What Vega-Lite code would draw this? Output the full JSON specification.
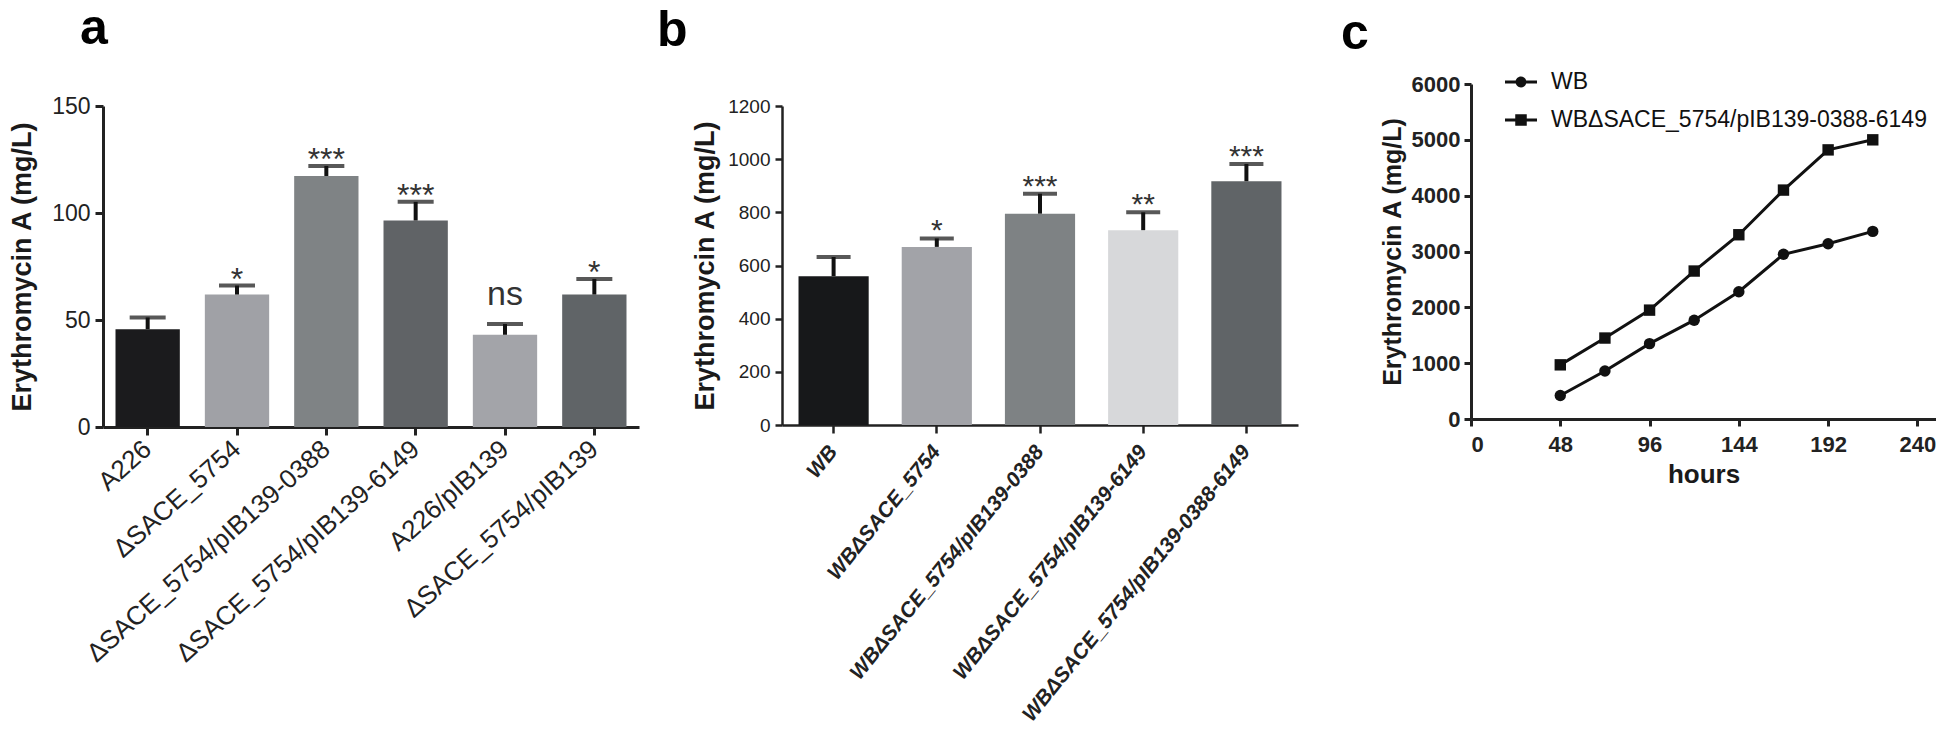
{
  "$schema": "https://vega.github.io/schema/vega-lite/v6.json",
  "padding": {"left": 8, "top": 3, "right": 0, "bottom": 0},
  "config": {
    "font": "Liberation Sans",
    "view": {"stroke": null},
    "axis": {"grid": false, "domainColor": "#222", "tickColor": "#222", "labelColor": "#222", "titleColor": "#1a1a1a"},
    "title": {"color": "#000"}
  },
  "datasets": {
    "barsA": [
      {"strain": "A226", "mean": 45.7, "upper": 51.2, "sig": ""},
      {"strain": "ΔSACE_5754", "mean": 61.9, "upper": 66.1, "sig": "*"},
      {"strain": "ΔSACE_5754/pIB139-0388", "mean": 117.3, "upper": 122.0, "sig": "***"},
      {"strain": "ΔSACE_5754/pIB139-6149", "mean": 96.5, "upper": 105.2, "sig": "***"},
      {"strain": "A226/pIB139", "mean": 43.1, "upper": 48.1, "sig": "ns"},
      {"strain": "ΔSACE_5754/pIB139", "mean": 61.9, "upper": 69.2, "sig": "*"}
    ],
    "barsB": [
      {"strain": "WB", "mean": 560, "upper": 632, "sig": ""},
      {"strain": "WBΔSACE_5754", "mean": 670, "upper": 702, "sig": "*"},
      {"strain": "WBΔSACE_5754/pIB139-0388", "mean": 795, "upper": 870, "sig": "***"},
      {"strain": "WBΔSACE_5754/pIB139-6149", "mean": 733, "upper": 800, "sig": "**"},
      {"strain": "WBΔSACE_5754/pIB139-0388-6149", "mean": 917, "upper": 982, "sig": "***"}
    ],
    "time": [
      {"series": "WB", "hours": 48, "value": 420},
      {"series": "WB", "hours": 72, "value": 860},
      {"series": "WB", "hours": 96, "value": 1350},
      {"series": "WB", "hours": 120, "value": 1770},
      {"series": "WB", "hours": 144, "value": 2280},
      {"series": "WB", "hours": 168, "value": 2950},
      {"series": "WB", "hours": 192, "value": 3140},
      {"series": "WB", "hours": 216, "value": 3360},
      {"series": "WBΔSACE_5754/pIB139-0388-6149", "hours": 48, "value": 970},
      {"series": "WBΔSACE_5754/pIB139-0388-6149", "hours": 72, "value": 1450},
      {"series": "WBΔSACE_5754/pIB139-0388-6149", "hours": 96, "value": 1950},
      {"series": "WBΔSACE_5754/pIB139-0388-6149", "hours": 120, "value": 2650},
      {"series": "WBΔSACE_5754/pIB139-0388-6149", "hours": 144, "value": 3300},
      {"series": "WBΔSACE_5754/pIB139-0388-6149", "hours": 168, "value": 4100},
      {"series": "WBΔSACE_5754/pIB139-0388-6149", "hours": 192, "value": 4820},
      {"series": "WBΔSACE_5754/pIB139-0388-6149", "hours": 216, "value": 5000}
    ]
  },
  "columns": 2,
  "align": "none",
  "spacing": 43,
  "resolve": {"scale": {"color": "independent", "shape": "independent"}, "legend": {"color": "independent", "shape": "independent"}},
  "concat": [
    {
      "spacing": 18,
      "resolve": {"scale": {"color": "independent"}, "legend": {"color": "independent"}},
      "hconcat": [
        {
          "width": 536,
          "height": 321,
          "title": {"text": "a", "anchor": "start", "frame": "group", "fontSize": 50, "fontWeight": "bold", "dx": -23, "offset": 41.5},
          "data": {"name": "barsA"},
          "encoding": {
            "x": {
              "field": "strain", "type": "nominal", "sort": null,
              "scale": {"paddingInner": 0.28, "paddingOuter": 0.14},
              "axis": {"title": null, "labelAngle": -42, "labelAlign": "right", "labelBaseline": "middle", "labelFontSize": 26, "labelPadding": 10, "tickSize": 8, "tickWidth": 3, "domainWidth": 3, "labelLimit": 0}
            }
          },
          "layer": [
            {
              "mark": {"type": "bar"},
              "encoding": {
                "y": {
                  "field": "mean", "type": "quantitative",
                  "scale": {"domain": [0, 150], "nice": false},
                  "axis": {"title": "Erythromycin A (mg/L)", "values": [0, 50, 100, 150], "format": "d", "labelFontSize": 23, "labelPadding": 5, "tickSize": 8, "tickWidth": 3, "domainWidth": 3, "titleFontSize": 27, "titleFontWeight": "bold", "titlePadding": 15}
                },
                "color": {
                  "field": "strain", "type": "nominal", "sort": null, "legend": null,
                  "scale": {"domain": ["A226", "ΔSACE_5754", "ΔSACE_5754/pIB139-0388", "ΔSACE_5754/pIB139-6149", "A226/pIB139", "ΔSACE_5754/pIB139"], "range": ["#1b1b1d", "#a0a1a6", "#7f8385", "#606366", "#a3a4a9", "#606467"]}
                }
              }
            },
            {
              "mark": {"type": "rule", "strokeWidth": 4, "color": "#111"},
              "encoding": {"y": {"field": "mean", "type": "quantitative", "title": "Erythromycin A (mg/L)"}, "y2": {"field": "upper"}}
            },
            {
              "mark": {"type": "tick", "size": 36, "thickness": 4, "color": "#111"},
              "encoding": {"y": {"field": "upper", "type": "quantitative", "title": "Erythromycin A (mg/L)"}}
            },
            {
              "transform": [{"filter": "datum.sig != 'ns' && datum.sig != ''"}],
              "mark": {"type": "text", "fontSize": 32, "dy": 4, "baseline": "alphabetic", "color": "#333"},
              "encoding": {"y": {"field": "upper", "type": "quantitative", "title": "Erythromycin A (mg/L)"}, "text": {"field": "sig"}}
            },
            {
              "transform": [{"filter": "datum.sig == 'ns'"}],
              "mark": {"type": "text", "fontSize": 34, "dy": -19, "baseline": "alphabetic", "color": "#333"},
              "encoding": {"y": {"field": "upper", "type": "quantitative", "title": "Erythromycin A (mg/L)"}, "text": {"field": "sig"}}
            }
          ]
        },
        {
          "width": 516,
          "height": 319,
          "title": {"text": "b", "anchor": "start", "frame": "group", "fontSize": 50, "fontWeight": "bold", "dx": -125, "offset": 41.5},
          "data": {"name": "barsB"},
          "encoding": {
            "x": {
              "field": "strain", "type": "nominal", "sort": null,
              "scale": {"paddingInner": 0.32, "paddingOuter": 0.16},
              "axis": {"title": null, "labelAngle": -51, "labelAlign": "right", "labelBaseline": "middle", "labelFontSize": 21, "labelFontStyle": "italic", "labelFontWeight": "bold", "labelPadding": 15, "tickSize": 8, "tickWidth": 2.5, "domainWidth": 2.5, "labelLimit": 0}
            }
          },
          "layer": [
            {
              "mark": {"type": "bar"},
              "encoding": {
                "y": {
                  "field": "mean", "type": "quantitative",
                  "scale": {"domain": [0, 1200], "nice": false},
                  "axis": {"title": "Erythromycin A (mg/L)", "values": [0, 200, 400, 600, 800, 1000, 1200], "format": "d", "labelFontSize": 19, "labelPadding": 5, "tickSize": 7, "tickWidth": 2.5, "domainWidth": 2.5, "titleFontSize": 27, "titleFontWeight": "bold", "titlePadding": 8}
                },
                "color": {
                  "field": "strain", "type": "nominal", "sort": null, "legend": null,
                  "scale": {"domain": ["WB", "WBΔSACE_5754", "WBΔSACE_5754/pIB139-0388", "WBΔSACE_5754/pIB139-6149", "WBΔSACE_5754/pIB139-0388-6149"], "range": ["#17181a", "#a2a3a8", "#7e8284", "#d7d8da", "#606467"]}
                }
              }
            },
            {
              "mark": {"type": "rule", "strokeWidth": 4, "color": "#111"},
              "encoding": {"y": {"field": "mean", "type": "quantitative", "title": "Erythromycin A (mg/L)"}, "y2": {"field": "upper"}}
            },
            {
              "mark": {"type": "tick", "size": 34, "thickness": 4, "color": "#111"},
              "encoding": {"y": {"field": "upper", "type": "quantitative", "title": "Erythromycin A (mg/L)"}}
            },
            {
              "transform": [{"filter": "datum.sig != 'ns' && datum.sig != ''"}],
              "mark": {"type": "text", "fontSize": 30, "dy": 2, "baseline": "alphabetic", "color": "#333"},
              "encoding": {"y": {"field": "upper", "type": "quantitative", "title": "Erythromycin A (mg/L)"}, "text": {"field": "sig"}}
            }
          ]
        }
      ]
    },
    {
      "width": 465,
      "height": 313,
      "title": {"text": "c", "anchor": "start", "frame": "group", "fontSize": 50, "fontWeight": "bold", "dx": -130, "offset": 7.5},
      "data": {"name": "time"},
      "encoding": {
        "x": {
          "field": "hours", "type": "quantitative",
          "scale": {"domain": [0, 250], "nice": false},
          "axis": {"title": "hours", "values": [0, 48, 96, 144, 192, 240], "labelFontSize": 22, "labelFontWeight": "bold", "labelPadding": 8, "tickSize": 7, "tickWidth": 3, "domainWidth": 3, "titleFontSize": 26, "titleFontWeight": "bold", "titlePadding": 6}
        },
        "y": {
          "field": "value", "type": "quantitative",
          "scale": {"domain": [0, 6000], "nice": false, "range": [313, -22]},
          "axis": {"title": "Erythromycin A (mg/L)", "values": [0, 1000, 2000, 3000, 4000, 5000, 6000], "format": "d", "labelFontSize": 22, "labelFontWeight": "bold", "labelPadding": 4, "tickSize": 7, "tickWidth": 3, "domainWidth": 3, "titleFontSize": 25, "titleFontWeight": "bold", "titlePadding": 6}
        }
      },
      "layer": [
        {
          "mark": {"type": "line", "color": "#111", "strokeWidth": 3},
          "encoding": {"detail": {"field": "series", "type": "nominal"}}
        },
        {
          "mark": {"type": "point", "filled": true, "color": "#111", "size": 130, "opacity": 1},
          "encoding": {
            "shape": {"field": "series", "type": "nominal", "legend": null,
              "scale": {"domain": ["WB", "WBΔSACE_5754/pIB139-0388-6149"], "range": ["circle", "square"]}}
          }
        },
        {
          "mark": {"type": "point", "filled": true, "color": "#111", "opacity": 0},
          "encoding": {
            "shape": {"field": "series", "type": "nominal",
              "scale": {"domain": ["WB", "WBΔSACE_5754/pIB139-0388-6149"], "range": ["M-1,-0.09H1V0.09H-1ZM0.34,0A0.34,0.34,0,1,1,-0.34,0A0.34,0.34,0,1,1,0.34,0Z", "M-1,-0.09H1V0.09H-1ZM-0.36,-0.36H0.36V0.36H-0.36Z"]},
              "legend": {
                "orient": "none", "legendX": 34, "legendY": -40, "title": null,
                "labelFontSize": 23, "labelColor": "#111", "labelLimit": 0, "labelOffset": 14, "rowPadding": 10,
                "symbolSize": 1024, "symbolFillColor": "#111", "symbolStrokeWidth": 0, "symbolOpacity": 1
              }
            }
          }
        }
      ],
      "resolve": {"scale": {"shape": "independent"}, "legend": {"shape": "independent"}}
    }
  ]
}
